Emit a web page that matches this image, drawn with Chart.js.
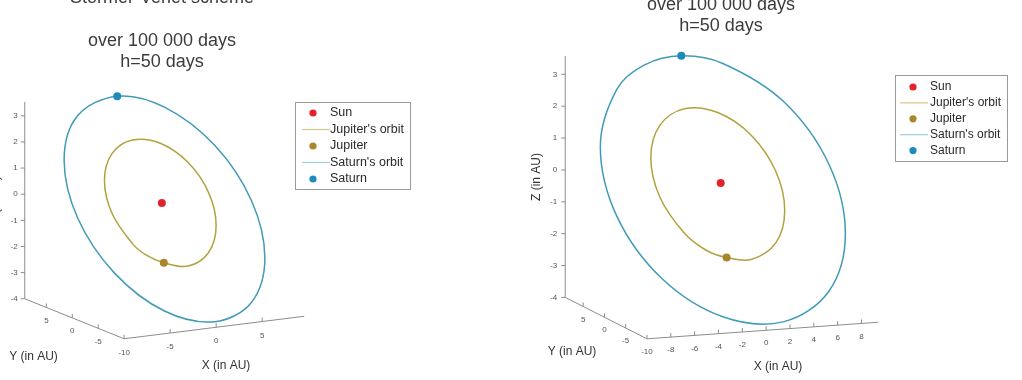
<!DOCTYPE html>
<html>
<head>
<meta charset="utf-8">
<script src="https://cdn.jsdelivr.net/npm/chart.js@4.4.1/dist/chart.umd.min.js"></script>
<style>
html,body{margin:0;padding:0;background:#fff;overflow:hidden}
.panel{position:absolute;top:0;width:511px;height:380px}
</style>
</head>
<body>
<div class="panel" style="left:0"><canvas id="leftChart" width="511" height="380"></canvas></div>
<div class="panel" style="left:511px"><canvas id="rightChart" width="511" height="380"></canvas></div>
<script>
// tick labels
const zTicks = [-4, -3, -2, -1, 0, 1, 2, 3];
const yTicks = [5, 0, -5];
const leftXTicks = [-10, -5, 0, 5];
const rightXTicks = [-10, -8, -6, -4, -2, 0, 2, 4, 6, 8];
const legendLabels = ['Sun', "Jupiter's orbit", 'Jupiter', "Saturn's orbit", 'Saturn'];

// positions, as [horizontal (screen, AU), Z (AU)]
const leftSun = [[-5.32, -0.34]];
const leftJupiter = [[-5.12, -2.62]];
const leftSaturn = [[-9.90, 3.75]];
const leftJupiterOrbit = [[-5.12,-2.62],[-2.62,-2.75],[-0.52,-2.23],[0.25,-1.20],[-0.52,0.06],[-2.62,1.21],[-5.48,1.95],[-8.34,2.07],[-10.44,1.55],[-11.21,0.52],[-10.44,-0.73],[-8.34,-1.89],[-6.96,-2.32],[-5.12,-2.62]];
const leftSaturnOrbit = [[-9.90,3.75],[-5.05,3.33],[0.10,1.87],[3.87,-0.24],[5.25,-2.44],[3.87,-4.14],[0.10,-4.88],[-5.05,-4.47],[-10.20,-3.01],[-13.97,-0.90],[-15.35,1.30],[-13.97,3.00],[-9.90,3.75]];

const rightSun = [[-3.58, -0.41]];
const rightJupiter = [[-3.09, -2.75]];
const rightSaturn = [[-6.83, 3.58]];
const rightJupiterOrbit = [[-3.09,-2.75],[-1.06,-2.81],[0.97,-2.29],[1.71,-1.27],[0.97,-0.04],[-1.06,1.09],[-3.82,1.80],[-6.59,1.92],[-8.61,1.40],[-9.35,0.38],[-8.61,-0.85],[-6.59,-1.98],[-4.78,-2.52],[-3.09,-2.75]];
const rightSaturnOrbit = [[-6.83,3.58],[-3.40,3.34],[1.66,2.13],[5.37,0.17],[6.72,-2.00],[5.37,-3.80],[1.66,-4.76],[-3.40,-4.61],[-8.46,-3.40],[-12.16,-1.45],[-13.52,0.73],[-12.16,2.53],[-9.90,3.29],[-6.83,3.58]];

const FONT = '"Liberation Sans", Arial, sans-serif';
const colors = {sun:'#e3232b', jup:'#a8862c', jupOrbit:'#b2a23e', sat:'#1e8cb8', satOrbit:'#3f9bb8'};

// per panel layout: box edges of the 3D axes, titles, legend
const panels = {
  leftChart: {
    range: {x:[-21.52, 30.10], y:[-6.955, 7.277]},
    axes: [
      {from:[-19.39,-4], to:[-19.39,3.53], v0:-4, v1:3.53, ticks:zTicks, tick:[-4,0], label:[-7,0], align:'right'},
      {from:[-19.39,-4], to:[-9.19,-5.53], v0:9.17, v1:-10, ticks:yTicks, tick:[0,-4], label:[0,13], align:'center'},
      {from:[-9.19,-5.53], to:[9.29,-4.67], v0:-10, v1:9.57, ticks:leftXTicks, tick:[0,-4], label:[0,14], align:'center'}
    ],
    title: {x:162, lines:[['Stormer-Verlet scheme',2.5],['over 100 000 days',45.7],['h=50 days',66.7]]},
    names: {y:[33.5,357], x:[226,366], z:[-4,200]},
    legend: {box:[295,102,115,87], y0:113, step:16.5, mx:313, l0:302, l1:330, tx:330, size:12.5}
  },
  rightChart: {
    range: {x:[-20.57, 20.98], y:[-6.467, 5.207]},
    axes: [
      {from:[-16.42,-4], to:[-16.42,3.58], v0:-4, v1:3.58, ticks:zTicks, tick:[-4,0], label:[-8,0], align:'right'},
      {from:[-16.42,-4], to:[-9.67,-5.30], v0:9.2, v1:-10, ticks:yTicks, tick:[0,-4], label:[0,13], align:'center'},
      {from:[-9.67,-5.30], to:[9.43,-4.78], v0:-10, v1:9.4, ticks:rightXTicks, tick:[0,-4], label:[0,13], align:'center'}
    ],
    title: {x:210, lines:[['over 100 000 days',9.5],['h=50 days',31]]},
    names: {y:[61,352], x:[267,367], z:[26,177]},
    legend: {box:[384,75,112,86], y0:87, step:15.9, mx:402, l0:389, l1:417, tx:419, size:12}
  }
};

const orbitAxes = {
  id: 'orbitAxes',
  beforeDatasetsDraw(chart) {
    const s = panels[chart.canvas.id];
    const {ctx, scales: {x, y}} = chart;
    const P = p => [x.getPixelForValue(p[0]), y.getPixelForValue(p[1])];
    ctx.save();
    ctx.lineWidth = 1;
    ctx.strokeStyle = '#8c8c8c';
    ctx.fillStyle = '#555';
    ctx.font = '8px ' + FONT;
    ctx.textBaseline = 'middle';
    s.axes.forEach(ax => {
      const a = P(ax.from), b = P(ax.to);
      ctx.beginPath(); ctx.moveTo(a[0], a[1]); ctx.lineTo(b[0], b[1]); ctx.stroke();
      ax.ticks.forEach(v => {
        const t = (v - ax.v0) / (ax.v1 - ax.v0);
        const px = a[0] + (b[0] - a[0]) * t, py = a[1] + (b[1] - a[1]) * t;
        ctx.beginPath(); ctx.moveTo(px, py); ctx.lineTo(px + ax.tick[0], py + ax.tick[1]); ctx.stroke();
        ctx.textAlign = ax.align;
        ctx.fillText(String(v), px + ax.label[0], py + ax.label[1]);
      });
    });
    ctx.restore();
  },
  afterDraw(chart) {
    const s = panels[chart.canvas.id];
    const ctx = chart.ctx;
    ctx.save();
    // title
    ctx.fillStyle = '#3c3c3c';
    ctx.font = '18px ' + FONT;
    ctx.textAlign = 'center';
    ctx.textBaseline = 'alphabetic';
    s.title.lines.forEach(([txt, by]) => ctx.fillText(txt, s.title.x, by));
    // axis names
    ctx.fillStyle = '#333';
    ctx.font = '12px ' + FONT;
    ctx.textBaseline = 'middle';
    ctx.fillText('Y (in AU)', s.names.y[0], s.names.y[1]);
    ctx.fillText('X (in AU)', s.names.x[0], s.names.x[1]);
    ctx.save();
    ctx.translate(s.names.z[0], s.names.z[1]);
    ctx.rotate(-Math.PI / 2);
    ctx.fillText('Z (in AU)', 0, 0);
    ctx.restore();
    // legend
    const L = s.legend;
    ctx.fillStyle = '#fff';
    ctx.fillRect(L.box[0], L.box[1], L.box[2], L.box[3]);
    ctx.strokeStyle = '#9a9a9a';
    ctx.lineWidth = 1;
    ctx.strokeRect(L.box[0] + 0.5, L.box[1] + 0.5, L.box[2], L.box[3]);
    const kinds = [['dot', colors.sun], ['line', '#d3c98a'], ['dot', colors.jup], ['line', '#9fcfdc'], ['dot', colors.sat]];
    ctx.font = L.size + 'px ' + FONT;
    ctx.textAlign = 'left';
    legendLabels.forEach((lab, i) => {
      const yy = L.y0 + i * L.step;
      const [k, c] = kinds[i];
      if (k === 'dot') {
        ctx.fillStyle = c;
        ctx.beginPath(); ctx.arc(L.mx, yy, 3.6, 0, Math.PI * 2); ctx.fill();
      } else {
        ctx.strokeStyle = c; ctx.lineWidth = 1.2;
        ctx.beginPath(); ctx.moveTo(L.l0, yy); ctx.lineTo(L.l1, yy); ctx.stroke();
      }
      ctx.fillStyle = '#2a2a2a';
      ctx.fillText(lab, L.tx, yy);
    });
    ctx.restore();
  }
};

const pts = arr => arr.map(p => ({x: p[0], y: p[1]}));
// closed orbit: one extra point on each side gives the seam proper tangents,
// the two extra segments are then drawn transparent
const loop = arr => pts([arr[arr.length - 2], ...arr, arr[1]]);
const dot = (label, arr, c) => ({label, data: pts(arr), showLine: false, pointRadius: 4, pointBackgroundColor: c, pointBorderWidth: 0});
const orbit = (label, arr, c) => {
  const data = loop(arr);
  const last = data.length - 1;
  return {
    label, data, showLine: true, borderColor: c, borderWidth: 1.5, pointRadius: 0, tension: 0.35, fill: false,
    segment: {borderColor: s => (s.p0DataIndex === 0 || s.p1DataIndex === last) ? 'rgba(0,0,0,0)' : c}
  };
};

function makeChart(id, sun, jup, sat, jupOrbit, satOrbit) {
  const r = panels[id].range;
  new Chart(document.getElementById(id), {
    type: 'scatter',
    data: {datasets: [
      dot('Sun', sun, colors.sun),
      dot('Jupiter', jup, colors.jup),
      dot('Saturn', sat, colors.sat),
      orbit("Jupiter's orbit", jupOrbit, colors.jupOrbit),
      orbit("Saturn's orbit", satOrbit, colors.satOrbit)
    ]},
    options: {
      responsive: false, animation: false, events: [],
      layout: {padding: 0},
      scales: {
        x: {type: 'linear', min: r.x[0], max: r.x[1], display: false},
        y: {type: 'linear', min: r.y[0], max: r.y[1], display: false}
      },
      plugins: {legend: {display: false}, tooltip: {enabled: false}, title: {display: false}}
    },
    plugins: [orbitAxes]
  });
}

makeChart('leftChart', leftSun, leftJupiter, leftSaturn, leftJupiterOrbit, leftSaturnOrbit);
makeChart('rightChart', rightSun, rightJupiter, rightSaturn, rightJupiterOrbit, rightSaturnOrbit);
</script>
</body>
</html>
